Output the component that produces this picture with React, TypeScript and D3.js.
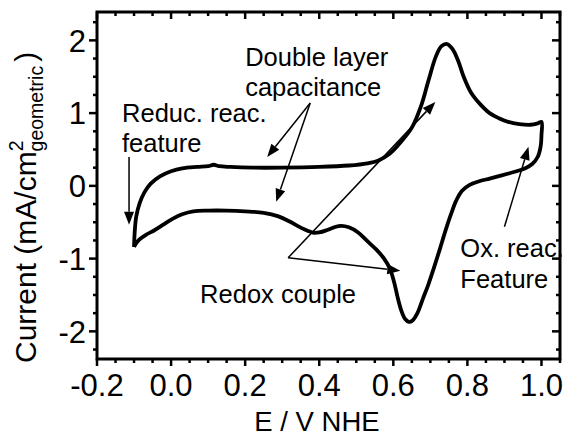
import React from "react";
import * as d3 from "d3";

const potential = [
  -0.100, -0.098, -0.094, -0.085, -0.072, -0.055, -0.030, 0.000, 0.030, 0.070,
  0.100, 0.115, 0.130, 0.160, 0.220, 0.300, 0.400, 0.480, 0.530, 0.560,
  0.590, 0.620, 0.650, 0.675, 0.695, 0.715, 0.730, 0.745, 0.760, 0.775,
  0.790, 0.810, 0.835, 0.860, 0.885, 0.910, 0.940, 0.970, 0.990, 1.000,
  1.000, 0.998, 0.990, 0.975, 0.955, 0.925, 0.890, 0.860, 0.830, 0.805,
  0.785, 0.770, 0.755, 0.740, 0.725, 0.710, 0.695, 0.680, 0.665, 0.652,
  0.642, 0.632, 0.622, 0.612, 0.602, 0.590, 0.575, 0.555, 0.530, 0.505,
  0.480, 0.460, 0.440, 0.420, 0.400, 0.385, 0.370, 0.345, 0.320, 0.290,
  0.250, 0.200, 0.150, 0.100, 0.060, 0.030, 0.005, -0.020, -0.045, -0.070,
  -0.090, -0.100,
];
const current = [
  -0.84, -0.62, -0.42, -0.24, -0.09, 0.03, 0.13, 0.20, 0.24, 0.26,
  0.27, 0.29, 0.27, 0.26, 0.25, 0.25, 0.26, 0.28, 0.31, 0.35,
  0.44, 0.60, 0.80, 1.10, 1.45, 1.78, 1.92, 1.95, 1.88, 1.72,
  1.50, 1.28, 1.12, 1.00, 0.93, 0.88, 0.85, 0.84, 0.86, 0.88,
  0.70, 0.55, 0.40, 0.30, 0.24, 0.19, 0.14, 0.10, 0.06, 0.01,
  -0.07, -0.20, -0.40, -0.63, -0.88, -1.12, -1.35, -1.55, -1.75, -1.85,
  -1.87, -1.83, -1.72, -1.54, -1.32, -1.13, -1.00, -0.88, -0.76, -0.64,
  -0.57, -0.55, -0.57, -0.61, -0.64, -0.645, -0.62, -0.56, -0.49, -0.42,
  -0.37, -0.35, -0.34, -0.34, -0.35, -0.39, -0.45, -0.53, -0.61, -0.68,
  -0.76, -0.84,
];

const xTicks = [-0.2, 0.0, 0.2, 0.4, 0.6, 0.8, 1.0];
const xTickLabels = ["-0.2", "0.0", "0.2", "0.4", "0.6", "0.8", "1.0"];
const yTicks = [-2, -1, 0, 1, 2];
const yTickLabels = ["-2", "-1", "0", "1", "2"];

const noteTexts = ["Double layer", "capacitance", "Reduc. reac.", "feature", "Redox couple", "Ox. reac.", "Feature"];
const noteE = [0.2, 0.2, -0.1324, -0.1324, 0.0784, 0.781, 0.781];
const noteI = [1.648, 1.236, 0.879, 0.467, -1.607, -0.975, -1.401];

const arrowE1 = [-0.1135, 0.3757, 0.3757, 0.316, 0.316, 0.9];
const arrowI1 = [0.398, 1.14, 1.14, -0.989, -0.989, -0.563];
const arrowE2 = [-0.1135, 0.2595, 0.2838, 0.7135, 0.619, 0.9649];
const arrowI2 = [-0.536, 0.398, -0.22, 1.154, -1.168, 0.536];

const W = 566, H = 434;
const L = 97, R = 560, T = 12, B = 359;

export default function App() {
  const x = d3.scaleLinear().domain([-0.2, 1.05]).range([L, R]);
  const y = d3.scaleLinear().domain([-2.38, 2.39]).range([B, T]);
  const pts: [number, number][] = potential.map((p, i) => [p, current[i]]);
  const line = d3.line<[number, number]>().x(d => x(d[0])).y(d => y(d[1])).curve(d3.curveCatmullRom.alpha(0.5));

  const xMinor = d3.range(-0.2, 1.0501, 0.05).map(v => +v.toFixed(3));
  const yMinor = d3.range(-2.25, 2.2501, 0.25).map(v => +v.toFixed(3));
  const font = "'Liberation Sans', Arial, sans-serif";

  const arrows = arrowE1.map((_, i) => {
    const x1 = x(arrowE1[i]), y1 = y(arrowI1[i]), x2 = x(arrowE2[i]), y2 = y(arrowI2[i]);
    const dx = x2 - x1, dy = y2 - y1, len = Math.hypot(dx, dy);
    const ux = dx / len, uy = dy / len;
    const hl = 13, hw = 5;
    const bx = x2 - ux * hl, by = y2 - uy * hl;
    const head = `M${x2},${y2}L${bx - uy * hw},${by + ux * hw}L${bx + uy * hw},${by - ux * hw}Z`;
    return { x1, y1, bx, by, head };
  });

  return (
    <svg width={W} height={H} style={{ position: "fixed", left: 0, top: 0, background: "#fff" }} fontFamily={font}>
      <rect x={0} y={0} width={W} height={H} fill="#fff" />
      {xMinor.map((v, i) => {
        const major = xTicks.some(t => Math.abs(t - v) < 1e-6);
        const len = major ? 7 : 4;
        return (
          <g key={"xm" + i}>
            <line x1={x(v)} x2={x(v)} y1={B} y2={B + len} stroke="#000" strokeWidth={2.5} />
            <line x1={x(v)} x2={x(v)} y1={T} y2={T + len} stroke="#000" strokeWidth={2.5} />
          </g>
        );
      })}
      {yMinor.map((v, i) => {
        const major = yTicks.some(t => Math.abs(t - v) < 1e-6);
        const len = major ? 8 : 4;
        return (
          <g key={"ym" + i}>
            <line x1={L - len} x2={L} y1={y(v)} y2={y(v)} stroke="#000" strokeWidth={2.5} />
            <line x1={R - len} x2={R} y1={y(v)} y2={y(v)} stroke="#000" strokeWidth={2.5} />
          </g>
        );
      })}
      <rect x={L} y={T} width={R - L} height={B - T} fill="none" stroke="#000" strokeWidth={3} />
      {xTicks.map((v, i) => (
        <text key={"xl" + i} x={x(v)} y={396} textAnchor="middle" fontSize={31}>{xTickLabels[i]}</text>
      ))}
      {yTicks.map((v, i) => (
        <text key={"yl" + i} x={86} y={y(v)} dy="0.36em" textAnchor="end" fontSize={31}>{yTickLabels[i]}</text>
      ))}
      <text x={317} y={431} textAnchor="middle" fontSize={27.5}>E / V NHE</text>
      <text transform="translate(36,363) rotate(-90)" fontSize={30}>
        <tspan>Current (mA/cm</tspan>
        <tspan fontSize={19.5} dy={-13}>2</tspan>
        <tspan fontSize={19.5} dx={-11} dy={20}>geometric</tspan>
        <tspan dx={4} dy={-7}>)</tspan>
      </text>
      <path d={line(pts) ?? ""} fill="none" stroke="#000" strokeWidth={3.8} strokeLinejoin="round" />
      {arrows.map((a, i) => (
        <g key={"ar" + i}>
          <line x1={a.x1} y1={a.y1} x2={a.bx} y2={a.by} stroke="#000" strokeWidth={1.5} />
          <path d={a.head} fill="#000" />
        </g>
      ))}
      {noteTexts.map((t, i) => (
        <text key={"nt" + i} x={x(noteE[i])} y={y(noteI[i])} fontSize={25.5}>{t}</text>
      ))}
    </svg>
  );
}
